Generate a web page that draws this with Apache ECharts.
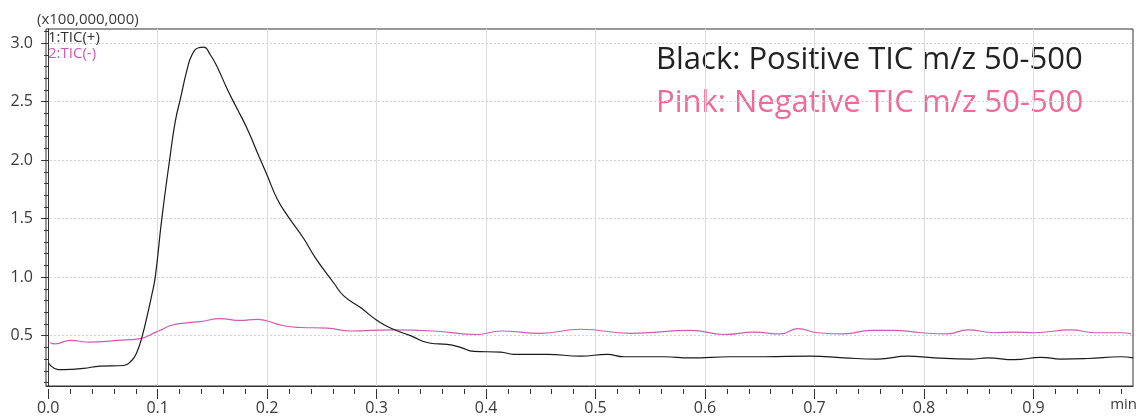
<!DOCTYPE html>
<html>
<head>
<meta charset="utf-8">
<script src="https://cdn.jsdelivr.net/npm/echarts@6/dist/echarts.min.js"></script>
<style>
  html, body { margin: 0; padding: 0; background: #fff; }
  #chart { width: 1141px; height: 416px; }
</style>
</head>
<body>
<div id="chart"></div>
<script>
// Retention time (min) and intensity (x100,000,000) for the positive TIC trace
const posTime = [0.000, 0.0094, 0.020, 0.0323, 0.0475, 0.0689, 0.0765, 0.0811, 0.0857, 0.0902, 0.0948, 0.0978,
  0.1038, 0.1109, 0.1161, 0.1207, 0.1268, 0.1314, 0.1374, 0.142, 0.1481, 0.1542, 0.1634, 0.1725, 0.1817,
  0.1908, 0.200, 0.2091, 0.2183, 0.2334, 0.2441, 0.2609, 0.270, 0.2853, 0.3005, 0.3127, 0.331,
  0.3493, 0.3645, 0.3767, 0.3889, 0.4133, 0.4254, 0.456, 0.4864, 0.5108, 0.526, 0.5626, 0.587, 0.6235, 0.654,
  0.6967, 0.7269, 0.7577, 0.7851, 0.8095, 0.843, 0.8583, 0.8826, 0.907, 0.9253, 0.9497, 0.9802, 0.991];
const posTic = [0.27, 0.21, 0.212, 0.22, 0.24, 0.245, 0.29, 0.36, 0.49, 0.66, 0.855, 1.0,
  1.5, 2.0, 2.33, 2.52, 2.77, 2.90, 2.96, 2.965, 2.90, 2.80, 2.61, 2.44, 2.27,
  2.07, 1.87, 1.67, 1.53, 1.33, 1.165, 0.95, 0.84, 0.74, 0.63, 0.565, 0.50,
  0.435, 0.425, 0.40, 0.365, 0.36, 0.34, 0.34, 0.325, 0.34, 0.32, 0.32, 0.31, 0.32, 0.32,
  0.325, 0.31, 0.30, 0.325, 0.31, 0.30, 0.31, 0.295, 0.315, 0.30, 0.305, 0.32, 0.31];

// Retention time (min) and intensity (x100,000,000) for the negative TIC trace
const negTime = [0.0018, 0.0064, 0.020, 0.0384, 0.0628, 0.0841, 0.0994, 0.1024, 0.1115, 0.1268, 0.139, 0.1572,
  0.1756, 0.1908, 0.200, 0.2151, 0.2304, 0.2548, 0.2761, 0.3127, 0.3523, 0.392, 0.4133, 0.4499,
  0.4864, 0.5321, 0.587, 0.6174, 0.6449, 0.6693, 0.6846, 0.7028, 0.7272, 0.7516, 0.7729, 0.7973, 0.8217,
  0.84, 0.8643, 0.8826, 0.9009, 0.9344, 0.9558, 0.9802, 0.9893];
const negTic = [0.44, 0.43, 0.46, 0.445, 0.46, 0.475, 0.535, 0.545, 0.585, 0.61, 0.62, 0.645,
  0.63, 0.64, 0.625, 0.585, 0.57, 0.565, 0.54, 0.55, 0.54, 0.51, 0.54, 0.52,
  0.555, 0.52, 0.545, 0.51, 0.53, 0.515, 0.56, 0.525, 0.515, 0.545, 0.545, 0.525, 0.515,
  0.55, 0.525, 0.53, 0.525, 0.55, 0.525, 0.525, 0.515];

// Axis tick positions
const xMajorTicks = [0.0, 0.1, 0.2, 0.3, 0.4, 0.5, 0.6, 0.7, 0.8, 0.9];
const xMinorTicks = [0.02, 0.04, 0.06, 0.08, 0.12, 0.14, 0.16, 0.18, 0.22, 0.24, 0.26, 0.28,
  0.32, 0.34, 0.36, 0.38, 0.42, 0.44, 0.46, 0.48, 0.52, 0.54, 0.56, 0.58, 0.62, 0.64, 0.66, 0.68,
  0.72, 0.74, 0.76, 0.78, 0.82, 0.84, 0.86, 0.88, 0.92, 0.94, 0.96, 0.98];
const yMajorTicks = [0.5, 1.0, 1.5, 2.0, 2.5, 3.0];
const yMinorTicks = [0.1, 0.2, 0.3, 0.4, 0.6, 0.7, 0.8, 0.9, 1.1, 1.2, 1.3, 1.4, 1.6, 1.7, 1.8, 1.9,
  2.1, 2.2, 2.3, 2.4, 2.6, 2.7, 2.8, 2.9, 3.1];

const FONT = '"Open Sans", "Noto Sans", sans-serif';
const AXIS_COLOR = '#333';
const LABEL_COLOR = '#3a3a3a';
const POS_COLOR = '#1a1a1a';
const NEG_COLOR = '#cc5cb4';

const X_MIN = -0.002, X_MAX = 0.991;
const Y_MIN = 0.07, Y_MAX = 3.12;

const zip = (xs, ys) => xs.map((x, i) => [x, ys[i]]);

const chart = echarts.init(document.getElementById('chart'), null, { renderer: 'canvas' });

chart.setOption({
  animation: false,
  backgroundColor: '#fff',
  grid: {
    left: 46, right: 8, top: 29, bottom: 27,
    show: true, borderColor: AXIS_COLOR, borderWidth: 1, backgroundColor: 'transparent'
  },
  xAxis: [
    {
      type: 'value', min: X_MIN, max: X_MAX,
      axisLine: { show: true, lineStyle: { color: AXIS_COLOR, width: 1 } },
      axisTick: { show: false, customValues: xMajorTicks.slice(1) },
      axisLabel: { show: false },
      splitLine: { show: true, lineStyle: { color: '#dcdcdc', width: 1 } }
    },
    {
      type: 'value', min: X_MIN, max: X_MAX, position: 'bottom', offset: 3,
      axisLine: { show: false },
      axisTick: { show: true, customValues: xMajorTicks, length: 10, lineStyle: { color: AXIS_COLOR } },
      axisLabel: {
        show: true, customValues: xMajorTicks, margin: 11,
        color: LABEL_COLOR, fontFamily: FONT, fontSize: 16,
        formatter: v => v.toFixed(1)
      },
      splitLine: { show: false }
    },
    {
      type: 'value', min: X_MIN, max: X_MAX, position: 'bottom', offset: 3,
      axisLine: { show: false },
      axisTick: { show: true, customValues: xMinorTicks, length: 5, lineStyle: { color: AXIS_COLOR } },
      axisLabel: { show: false },
      splitLine: { show: false }
    }
  ],
  yAxis: [
    {
      type: 'value', min: Y_MIN, max: Y_MAX,
      axisLine: { show: true, lineStyle: { color: AXIS_COLOR, width: 1 } },
      axisTick: { show: true, customValues: yMajorTicks, length: 7, lineStyle: { color: AXIS_COLOR } },
      axisLabel: {
        show: true, customValues: yMajorTicks, margin: 13,
        color: LABEL_COLOR, fontFamily: FONT, fontSize: 16,
        formatter: v => v.toFixed(1)
      },
      splitLine: { show: true, lineStyle: { color: '#d4d4d4', width: 1, type: [2, 2] } }
    },
    {
      type: 'value', min: Y_MIN, max: Y_MAX, position: 'left',
      axisLine: { show: false },
      axisTick: { show: true, customValues: yMinorTicks, length: 4, lineStyle: { color: AXIS_COLOR } },
      axisLabel: { show: false },
      splitLine: { show: false }
    }
  ],
  series: [
    {
      name: '2:TIC(-)', type: 'line', xAxisIndex: 0, yAxisIndex: 0,
      data: zip(negTime, negTic),
      smooth: 0.5, showSymbol: false, symbol: 'none',
      lineStyle: { color: NEG_COLOR, width: 1.2 }, z: 3
    },
    {
      name: '1:TIC(+)', type: 'line', xAxisIndex: 0, yAxisIndex: 0,
      data: zip(posTime, posTic),
      smooth: 0.5, showSymbol: false, symbol: 'none',
      lineStyle: { color: POS_COLOR, width: 1.2 }, z: 4
    }
  ],
  graphic: [
    { type: 'text', left: 37, top: 12, style: { text: '(x100,000,000)', fill: LABEL_COLOR, font: '15px ' + FONT } },
    { type: 'text', left: 48, top: 30, style: { text: '1:TIC(+)', fill: '#333', font: '15px ' + FONT } },
    { type: 'text', left: 48, top: 46, style: { text: '2:TIC(-)', fill: NEG_COLOR, font: '15px ' + FONT } },
    { type: 'text', right: 4, top: 397, style: { text: 'min', fill: LABEL_COLOR, font: '15px ' + FONT } },
    { type: 'text', left: 656, top: 45, style: { text: 'Black: Positive TIC m/z 50-500', fill: '#222', font: '31px ' + FONT } },
    { type: 'text', left: 656, top: 88, style: { text: 'Pink: Negative TIC m/z 50-500', fill: '#ef6a98', font: '31px ' + FONT } }
  ]
});
</script>
</body>
</html>
